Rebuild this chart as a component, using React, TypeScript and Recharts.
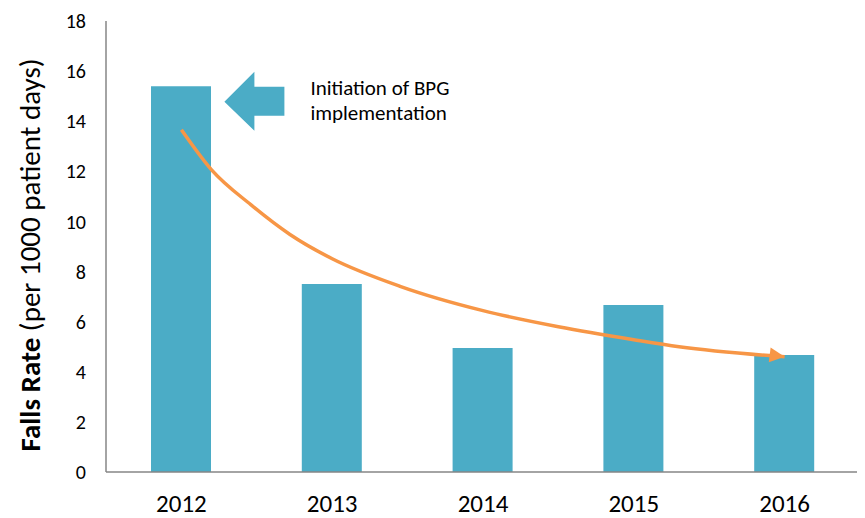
import { Bar, ComposedChart, Label, Line, ReferenceDot, XAxis, YAxis } from "recharts";

const years = ["2012", "2013", "2014", "2015", "2016"];
const fallsRate = [15.4, 7.5, 4.95, 6.67, 4.67];
const yTicks = [0, 2, 4, 6, 8, 10, 12, 14, 16, 18];

// hand-drawn trend arrow (position in category units)
const trendPos = [0, 0.2, 0.46, 0.72, 1, 1.45, 2, 2.5, 3, 3.3, 4];
const trendRate = [13.66, 12.06, 10.67, 9.48, 8.51, 7.41, 6.44, 5.8, 5.28, 5.0, 4.6];

const data = years.map((year, i) => ({ year, rate: fallsRate[i] }));
const trendData = trendPos.map((pos, i) => ({ pos, trend: trendRate[i] }));

const font = "Carlito, Lato, sans-serif";
const blue = "#4BACC6";
const orange = "#F79646";

function ArrowDot(props: any) {
  const { cx, cy, index } = props;
  if (index !== trendPos.length - 1) return <g key={`d${index}`} />;
  return (
    <polygon
      key={`d${index}`}
      points={`${cx},${cy} ${cx - 15},${cy - 7.5} ${cx - 15},${cy + 7.5}`}
      fill={orange}
      transform={`rotate(7 ${cx} ${cy})`}
    />
  );
}

function BpgCallout(props: any) {
  const tx = props.cx + 43;
  const ty = props.cy;
  const pts = [
    [0, 0], [30, -30], [30, -15], [60, -15], [60, 14], [30, 14], [30, 29],
  ].map(([dx, dy]) => `${tx + dx},${ty + dy}`).join(" ");
  return (
    <g>
      <polygon points={pts} fill={blue} />
      <text x={tx + 86} y={ty - 7} fontSize={21} fontFamily={font} fill="#000">Initiation of BPG</text>
      <text x={tx + 86} y={ty + 18} fontSize={21} fontFamily={font} fill="#000">implementation</text>
    </g>
  );
}

function YTitle() {
  const cx = 21.5;
  const cy = 247;
  return (
    <text
      x={cx}
      y={cy}
      transform={`rotate(-90 ${cx} ${cy})`}
      textAnchor="middle"
      dominantBaseline="central"
      fontSize={29}
      fontFamily={font}
      fill="#000"
    >
      <tspan fontWeight="bold">Falls Rate</tspan>
      <tspan> (per 1000 patient days)</tspan>
    </text>
  );
}

export default function App() {
  return (
    <ComposedChart width={857} height={510} data={data} margin={{ top: 13, right: 5, left: 0, bottom: 0 }}>
      <XAxis
        xAxisId="cat"
        dataKey="year"
        height={46}
        stroke="#868686"
        strokeWidth={1.5}
        tickLine={false}
        tickSize={0}
        tickMargin={22}
        tick={{ fontSize: 25, fill: "#000", fontFamily: font }}
      />
      <XAxis xAxisId="trend" type="number" dataKey="pos" domain={[-0.5, 4.5]} allowDataOverflow hide />
      <YAxis
        width={98}
        domain={[0, 18]}
        ticks={yTicks}
        stroke="#868686"
        strokeWidth={1.5}
        tickLine={false}
        tickSize={0}
        tickMargin={20}
        tick={{ fontSize: 20, fill: "#000", fontFamily: font }}
      >
        <Label content={YTitle} />
      </YAxis>
      <Bar xAxisId="cat" dataKey="rate" fill={blue} barSize={60} isAnimationActive={false} />
      <Line
        xAxisId="trend"
        data={trendData}
        dataKey="trend"
        type="monotone"
        stroke={orange}
        strokeWidth={3.5}
        dot={ArrowDot}
        activeDot={false}
        isAnimationActive={false}
      />
      <ReferenceDot xAxisId="cat" x="2012" y={14.78} shape={BpgCallout} />
    </ComposedChart>
  );
}
